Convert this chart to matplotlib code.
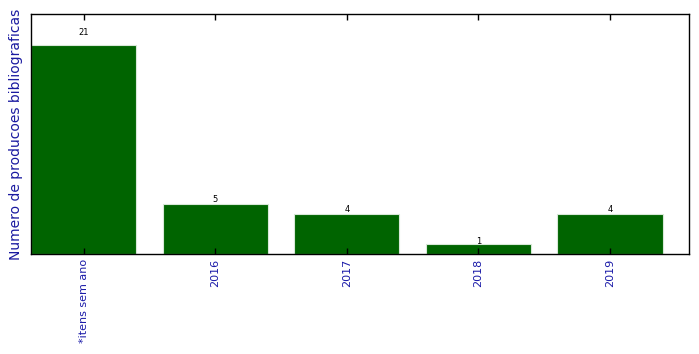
import matplotlib
matplotlib.use("Agg")
import matplotlib.pyplot as plt

categorias = ["*itens sem ano", "2016", "2017", "2018", "2019"]
valores = [21, 5, 4, 1, 4]

fig = plt.figure(figsize=(6.99, 3.54), dpi=100)
ax = fig.add_axes([0.0443, 0.2825, 0.9414, 0.678])

pos = range(len(categorias))
barras = ax.bar(pos, valores, width=0.8, color="#006400", edgecolor="#d8e8d8", linewidth=0.8)

for b in barras:
    h = b.get_height()
    ax.text(b.get_x() + b.get_width() / 2, 1.05 * h, "%d" % int(h),
            ha="center", va="baseline", fontsize=6)

ax.set_xlim(-0.4, len(categorias) - 0.4)
ax.set_ylim(0, max(valores) * 1.15)
ax.set_xticks(list(pos))
ax.set_xticklabels(categorias, rotation=90, fontsize=8, color="#1a1aa8")
ax.set_yticks([])
ax.tick_params(axis="x", direction="in", top=True, length=4, width=1)
for s in ax.spines.values():
    s.set_linewidth(1)
ax.set_ylabel("Numero de producoes bibliograficas", fontsize=10, color="#1a1aa0", labelpad=6)

fig.savefig("out.png", dpi=100)
